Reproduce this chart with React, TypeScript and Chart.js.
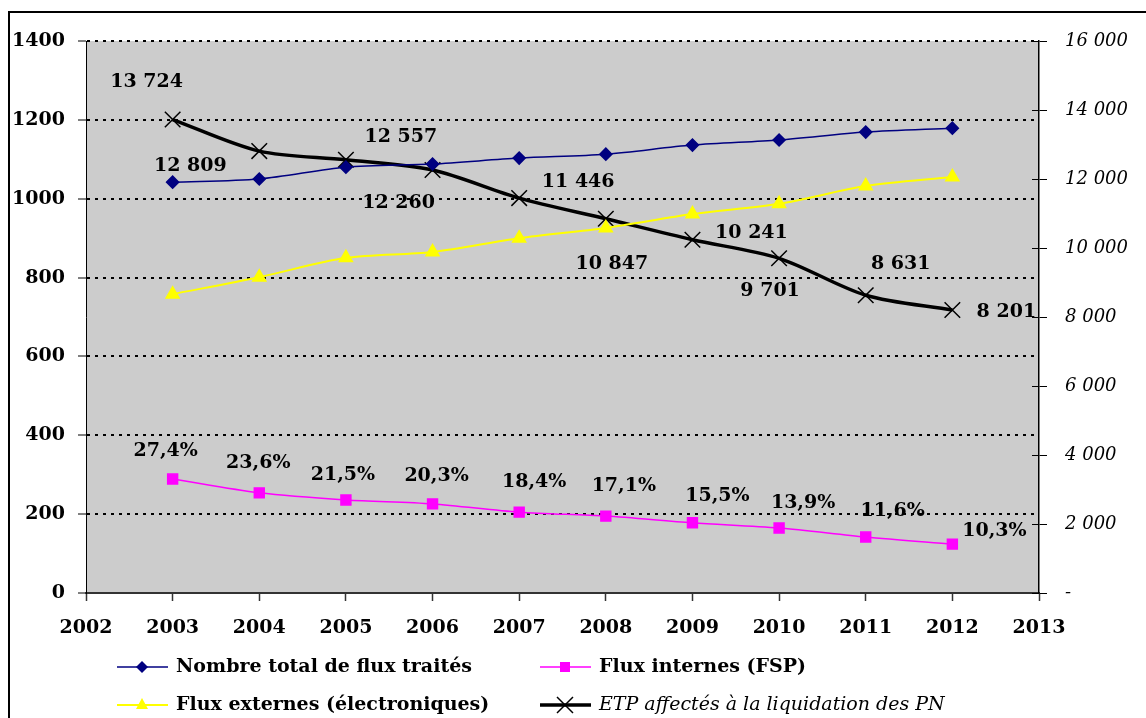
import React, { useEffect, useRef } from "react";
import { Chart, registerables } from "chart.js";

Chart.register(...registerables);

// ---------- data ----------
const years = [2003, 2004, 2005, 2006, 2007, 2008, 2009, 2010, 2011, 2012];
const totalFlux = [1042, 1050, 1080, 1088, 1103, 1113, 1136, 1149, 1169, 1179];
const internalFlux = [289, 254, 236, 226, 205, 195, 178, 165, 142, 124];
const externalFlux = [758, 801, 850, 865, 900, 926, 961, 987, 1032, 1055];
const etpValues = [13724, 12809, 12557, 12260, 11446, 10847, 10241, 9701, 8631, 8201];
const internalShareLabels = ["27,4%", "23,6%", "21,5%", "20,3%", "18,4%", "17,1%", "15,5%", "13,9%", "11,6%", "10,3%"];
const seriesNames = [
  "Nombre total de flux traités",
  "Flux internes (FSP)",
  "Flux externes (électroniques)",
  "ETP affectés à la liquidation des PN",
];
const xMin = 2002;
const xMax = 2013;
const leftMax = 1400;
const leftStep = 200;
const rightMax = 16000;
const rightStep = 2000;

// ---------- label placement (pixel offsets from each point) ----------
const etpLabelOffsets = [[-26, -37], [-69, 15], [55, -23], [-34, 33], [59, -16], [6, 45], [59, -7], [-9, 33], [35, -31], [54, 2]];
const shareLabelOffsets = [[-7, -28], [-1, -30], [-3, -25], [4, -28], [15, -30], [18, -30], [25, -27], [24, -25], [27, -26], [42, -13]];

const FONT = "'DejaVu Serif', serif";
const NAVY = "#000080";
const MAGENTA = "#FF00FF";
const YELLOW = "#FFFF00";

const fmtThousands = (v: number) =>
  v === 0 ? "-" : String(v).replace(/\B(?=(\d{3})+(?!\d))/g, " ");

const pts = (arr: number[]) => arr.map((y, i) => ({ x: years[i], y }));

function drawMarker(ctx: CanvasRenderingContext2D, kind: string, x: number, y: number, color: string) {
  ctx.save();
  ctx.fillStyle = color;
  ctx.strokeStyle = color;
  ctx.beginPath();
  if (kind === "diamond") {
    const r = 6;
    ctx.moveTo(x, y - r); ctx.lineTo(x + r, y); ctx.lineTo(x, y + r); ctx.lineTo(x - r, y); ctx.closePath(); ctx.fill();
  } else if (kind === "square") {
    ctx.rect(x - 5, y - 5, 10, 10); ctx.fill();
  } else if (kind === "triangle") {
    ctx.moveTo(x, y - 7); ctx.lineTo(x + 6, y + 4); ctx.lineTo(x - 6, y + 4); ctx.closePath(); ctx.fill();
  } else {
    ctx.lineWidth = 1.5;
    ctx.moveTo(x - 8, y - 8); ctx.lineTo(x + 8, y + 8);
    ctx.moveTo(x + 8, y - 8); ctx.lineTo(x - 8, y + 8); ctx.stroke();
  }
  ctx.restore();
}

const decorPlugin = {
  id: "decor",
  beforeDraw(chart: any) {
    const { ctx, chartArea: a } = chart;
    ctx.save();
    ctx.fillStyle = "#ffffff";
    ctx.fillRect(0, 0, chart.width, chart.height);
    ctx.fillStyle = "#CCCCCC";
    ctx.fillRect(a.left, a.top, a.right - a.left, a.bottom - a.top);
    ctx.restore();
  },
  afterDatasetsDraw(chart: any) {
    const { ctx } = chart;
    ctx.save();
    ctx.fillStyle = "#000";
    ctx.font = `bold 19px ${FONT}`;
    ctx.textAlign = "center";
    ctx.textBaseline = "middle";
    const etpMeta = chart.getDatasetMeta(3);
    etpMeta.data.forEach((el: any, i: number) => {
      const [dx, dy] = etpLabelOffsets[i];
      ctx.fillText(fmtThousands(etpValues[i]), el.x + dx, el.y + dy);
    });
    const shareMeta = chart.getDatasetMeta(1);
    shareMeta.data.forEach((el: any, i: number) => {
      const [dx, dy] = shareLabelOffsets[i];
      ctx.fillText(internalShareLabels[i], el.x + dx, el.y + dy);
    });
    ctx.restore();
  },
  afterDraw(chart: any) {
    const { ctx } = chart;
    ctx.save();
    // outer frame
    ctx.strokeStyle = "#000";
    ctx.lineWidth = 2;
    ctx.strokeRect(9, 12, chart.width + 20, chart.height + 20);
    // crossing tick marks on the right axis (inner half)
    const y1 = chart.scales.y1;
    ctx.strokeStyle = "#000";
    ctx.lineWidth = 1;
    y1.ticks.forEach((t: any) => {
      const yy = Math.round(y1.getPixelForValue(t.value)) + 0.5;
      ctx.beginPath();
      ctx.moveTo(y1.left - 7, yy);
      ctx.lineTo(y1.left, yy);
      ctx.stroke();
    });
    // legend
    const items = [
      { name: seriesNames[0], color: NAVY, width: 1.5, kind: "diamond", col: 0, row: 0, italic: false },
      { name: seriesNames[1], color: MAGENTA, width: 1.5, kind: "square", col: 1, row: 0, italic: false },
      { name: seriesNames[2], color: YELLOW, width: 2, kind: "triangle", col: 0, row: 1, italic: false },
      { name: seriesNames[3], color: "#000", width: 3.5, kind: "cross", col: 1, row: 1, italic: true },
    ];
    const colX = [117, 540];
    const rowY = [667, 705];
    items.forEach((it) => {
      const x = colX[it.col];
      const y = rowY[it.row];
      ctx.strokeStyle = it.color;
      ctx.lineWidth = it.width;
      ctx.beginPath();
      ctx.moveTo(x, y);
      ctx.lineTo(x + 51, y);
      ctx.stroke();
      drawMarker(ctx, it.kind, x + 25, y, it.color);
      ctx.fillStyle = "#000";
      ctx.font = it.italic ? `italic 19px ${FONT}` : `bold 19px ${FONT}`;
      ctx.textAlign = "left";
      ctx.textBaseline = "middle";
      ctx.fillText(it.name, x + 59, y);
    });
    ctx.restore();
  },
};

export default function App() {
  const canvasRef = useRef<HTMLCanvasElement | null>(null);

  useEffect(() => {
    if (!canvasRef.current) return;
    Chart.defaults.font.family = FONT;
    const chart = new Chart(canvasRef.current, {
      type: "line",
      data: {
        datasets: [
          {
            label: seriesNames[0],
            data: pts(totalFlux),
            yAxisID: "y",
            borderColor: NAVY,
            backgroundColor: NAVY,
            borderWidth: 1.5,
            pointStyle: "rectRot",
            pointRadius: 6,
            tension: 0.3,
          },
          {
            label: seriesNames[1],
            data: pts(internalFlux),
            yAxisID: "y",
            borderColor: MAGENTA,
            backgroundColor: MAGENTA,
            borderWidth: 1.5,
            pointStyle: "rect",
            pointRadius: 7,
            tension: 0.3,
          },
          {
            label: seriesNames[2],
            data: pts(externalFlux),
            yAxisID: "y",
            borderColor: YELLOW,
            backgroundColor: YELLOW,
            borderWidth: 2,
            pointStyle: "triangle",
            pointRadius: 7,
            tension: 0.3,
          },
          {
            label: seriesNames[3],
            data: pts(etpValues),
            yAxisID: "y1",
            borderColor: "#000",
            backgroundColor: "#000",
            borderWidth: 3.5,
            pointStyle: "crossRot",
            pointRadius: 11,
            pointBorderWidth: 1.5,
            tension: 0.3,
          },
        ],
      },
      options: {
        responsive: false,
        animation: false,
        layout: { padding: { top: 41, bottom: 85, left: 0, right: 0 } },
        plugins: { legend: { display: false }, tooltip: { enabled: false } },
        scales: {
          x: {
            type: "linear",
            min: xMin,
            max: xMax,
            afterFit: (s: any) => { s.height = 40; },
            ticks: {
              stepSize: 1,
              callback: (v: any) => String(v),
              color: "#000",
              font: { size: 19, weight: "bold" },
              padding: 16,
              maxRotation: 0,
            },
            grid: { drawOnChartArea: false, drawTicks: true, tickLength: 8, tickColor: "#333", tickWidth: 1.5 },
            border: { display: true, color: "#333", width: 2 },
          },
          y: {
            position: "left",
            min: 0,
            max: leftMax,
            afterFit: (s: any) => { s.width = 86; },
            ticks: {
              stepSize: leftStep,
              callback: (v: any) => String(v),
              color: "#000",
              font: { size: 19, weight: "bold" },
              padding: 13,
            },
            grid: {
              color: (c: any) => (c.tick && c.tick.value === 0 ? "rgba(0,0,0,0)" : "#000"),
              lineWidth: 2,
              tickLength: 8,
              tickColor: "#000",
              tickWidth: 1,
            },
            border: { display: true, color: "#000", width: 1, dash: [3, 5] },
          },
          y1: {
            position: "right",
            min: 0,
            max: rightMax,
            afterFit: (s: any) => { s.width = 107; },
            ticks: {
              stepSize: rightStep,
              callback: (v: any) => fmtThousands(Number(v)),
              color: "#000",
              font: { size: 18, style: "italic", weight: "normal" },
              padding: 18,
            },
            grid: { drawOnChartArea: false, drawTicks: true, tickLength: 8, tickColor: "#000", tickWidth: 1 },
            border: { display: true, color: "#000", width: 1.5 },
          },
        },
      },
      plugins: [decorPlugin],
    } as any);
    return () => chart.destroy();
  }, []);

  return (
    <div style={{ position: "fixed", left: 0, top: 0, width: 1146, height: 718, background: "#fff" }}>
      <canvas ref={canvasRef} width={1146} height={718} style={{ width: 1146, height: 718, display: "block" }} />
    </div>
  );
}
